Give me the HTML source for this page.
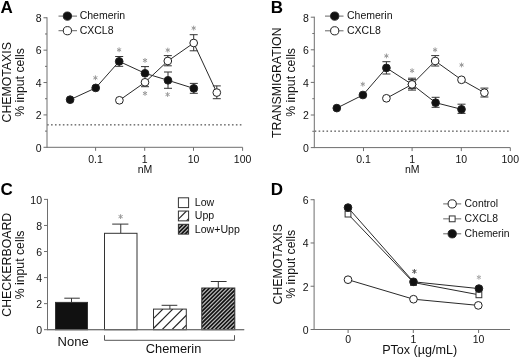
<!DOCTYPE html>
<html><head><meta charset="utf-8"><style>
html,body{margin:0;padding:0;background:#fff;}
body{width:520px;height:357px;overflow:hidden;}
svg{display:block;font-family:"Liberation Sans", sans-serif;filter:grayscale(1);}
</style></head><body>
<svg width="520" height="357" viewBox="0 0 520 357" font-family='"Liberation Sans", sans-serif'>
<rect width="520" height="357" fill="#fff"/>
<text x="0.40" y="12.60" font-size="17" text-anchor="start" font-weight="bold" fill="#000" >A</text>
<line x1="47.00" y1="17.28" x2="47.00" y2="147.80" stroke="#6e6e6e" stroke-width="1.0" />
<line x1="43.50" y1="147.30" x2="47.00" y2="147.30" stroke="#6e6e6e" stroke-width="1.0" />
<text x="41.50" y="151.60" font-size="10.5" text-anchor="end" font-weight="normal" fill="#111" >0</text>
<line x1="45.00" y1="131.11" x2="47.00" y2="131.11" stroke="#6e6e6e" stroke-width="1.0" />
<line x1="43.50" y1="114.92" x2="47.00" y2="114.92" stroke="#6e6e6e" stroke-width="1.0" />
<text x="41.50" y="119.22" font-size="10.5" text-anchor="end" font-weight="normal" fill="#111" >2</text>
<line x1="45.00" y1="98.73" x2="47.00" y2="98.73" stroke="#6e6e6e" stroke-width="1.0" />
<line x1="43.50" y1="82.54" x2="47.00" y2="82.54" stroke="#6e6e6e" stroke-width="1.0" />
<text x="41.50" y="86.84" font-size="10.5" text-anchor="end" font-weight="normal" fill="#111" >4</text>
<line x1="45.00" y1="66.35" x2="47.00" y2="66.35" stroke="#6e6e6e" stroke-width="1.0" />
<line x1="43.50" y1="50.16" x2="47.00" y2="50.16" stroke="#6e6e6e" stroke-width="1.0" />
<text x="41.50" y="54.46" font-size="10.5" text-anchor="end" font-weight="normal" fill="#111" >6</text>
<line x1="45.00" y1="33.97" x2="47.00" y2="33.97" stroke="#6e6e6e" stroke-width="1.0" />
<line x1="43.50" y1="17.78" x2="47.00" y2="17.78" stroke="#6e6e6e" stroke-width="1.0" />
<text x="41.50" y="22.08" font-size="10.5" text-anchor="end" font-weight="normal" fill="#111" >8</text>
<line x1="47.00" y1="147.30" x2="242.60" y2="147.30" stroke="#6e6e6e" stroke-width="1.0" />
<line x1="95.60" y1="147.30" x2="95.60" y2="150.80" stroke="#6e6e6e" stroke-width="1.0" />
<text x="95.60" y="162.50" font-size="10.5" text-anchor="middle" font-weight="normal" fill="#111" >0.1</text>
<line x1="144.70" y1="147.30" x2="144.70" y2="150.80" stroke="#6e6e6e" stroke-width="1.0" />
<text x="144.70" y="162.50" font-size="10.5" text-anchor="middle" font-weight="normal" fill="#111" >1</text>
<line x1="193.50" y1="147.30" x2="193.50" y2="150.80" stroke="#6e6e6e" stroke-width="1.0" />
<text x="193.50" y="162.50" font-size="10.5" text-anchor="middle" font-weight="normal" fill="#111" >10</text>
<line x1="242.60" y1="147.30" x2="242.60" y2="150.80" stroke="#6e6e6e" stroke-width="1.0" />
<text x="242.60" y="162.50" font-size="10.5" text-anchor="middle" font-weight="normal" fill="#111" >100</text>
<text x="145.00" y="172.60" font-size="10.5" text-anchor="middle" font-weight="normal" fill="#111" >nM</text>
<rect x="47.10" y="124.00" width="1.6" height="1.6" fill="#7a7a7a"/>
<rect x="51.03" y="124.00" width="1.6" height="1.6" fill="#7a7a7a"/>
<rect x="54.97" y="124.00" width="1.6" height="1.6" fill="#7a7a7a"/>
<rect x="58.90" y="124.00" width="1.6" height="1.6" fill="#7a7a7a"/>
<rect x="62.83" y="124.00" width="1.6" height="1.6" fill="#7a7a7a"/>
<rect x="66.77" y="124.00" width="1.6" height="1.6" fill="#7a7a7a"/>
<rect x="70.70" y="124.00" width="1.6" height="1.6" fill="#7a7a7a"/>
<rect x="74.63" y="124.00" width="1.6" height="1.6" fill="#7a7a7a"/>
<rect x="78.56" y="124.00" width="1.6" height="1.6" fill="#7a7a7a"/>
<rect x="82.50" y="124.00" width="1.6" height="1.6" fill="#7a7a7a"/>
<rect x="86.43" y="124.00" width="1.6" height="1.6" fill="#7a7a7a"/>
<rect x="90.36" y="124.00" width="1.6" height="1.6" fill="#7a7a7a"/>
<rect x="94.30" y="124.00" width="1.6" height="1.6" fill="#7a7a7a"/>
<rect x="98.23" y="124.00" width="1.6" height="1.6" fill="#7a7a7a"/>
<rect x="102.16" y="124.00" width="1.6" height="1.6" fill="#7a7a7a"/>
<rect x="106.09" y="124.00" width="1.6" height="1.6" fill="#7a7a7a"/>
<rect x="110.03" y="124.00" width="1.6" height="1.6" fill="#7a7a7a"/>
<rect x="113.96" y="124.00" width="1.6" height="1.6" fill="#7a7a7a"/>
<rect x="117.89" y="124.00" width="1.6" height="1.6" fill="#7a7a7a"/>
<rect x="121.83" y="124.00" width="1.6" height="1.6" fill="#7a7a7a"/>
<rect x="125.76" y="124.00" width="1.6" height="1.6" fill="#7a7a7a"/>
<rect x="129.69" y="124.00" width="1.6" height="1.6" fill="#7a7a7a"/>
<rect x="133.63" y="124.00" width="1.6" height="1.6" fill="#7a7a7a"/>
<rect x="137.56" y="124.00" width="1.6" height="1.6" fill="#7a7a7a"/>
<rect x="141.49" y="124.00" width="1.6" height="1.6" fill="#7a7a7a"/>
<rect x="145.42" y="124.00" width="1.6" height="1.6" fill="#7a7a7a"/>
<rect x="149.36" y="124.00" width="1.6" height="1.6" fill="#7a7a7a"/>
<rect x="153.29" y="124.00" width="1.6" height="1.6" fill="#7a7a7a"/>
<rect x="157.22" y="124.00" width="1.6" height="1.6" fill="#7a7a7a"/>
<rect x="161.16" y="124.00" width="1.6" height="1.6" fill="#7a7a7a"/>
<rect x="165.09" y="124.00" width="1.6" height="1.6" fill="#7a7a7a"/>
<rect x="169.02" y="124.00" width="1.6" height="1.6" fill="#7a7a7a"/>
<rect x="172.96" y="124.00" width="1.6" height="1.6" fill="#7a7a7a"/>
<rect x="176.89" y="124.00" width="1.6" height="1.6" fill="#7a7a7a"/>
<rect x="180.82" y="124.00" width="1.6" height="1.6" fill="#7a7a7a"/>
<rect x="184.75" y="124.00" width="1.6" height="1.6" fill="#7a7a7a"/>
<rect x="188.69" y="124.00" width="1.6" height="1.6" fill="#7a7a7a"/>
<rect x="192.62" y="124.00" width="1.6" height="1.6" fill="#7a7a7a"/>
<rect x="196.55" y="124.00" width="1.6" height="1.6" fill="#7a7a7a"/>
<rect x="200.49" y="124.00" width="1.6" height="1.6" fill="#7a7a7a"/>
<rect x="204.42" y="124.00" width="1.6" height="1.6" fill="#7a7a7a"/>
<rect x="208.35" y="124.00" width="1.6" height="1.6" fill="#7a7a7a"/>
<rect x="212.29" y="124.00" width="1.6" height="1.6" fill="#7a7a7a"/>
<rect x="216.22" y="124.00" width="1.6" height="1.6" fill="#7a7a7a"/>
<rect x="220.15" y="124.00" width="1.6" height="1.6" fill="#7a7a7a"/>
<rect x="224.08" y="124.00" width="1.6" height="1.6" fill="#7a7a7a"/>
<rect x="228.02" y="124.00" width="1.6" height="1.6" fill="#7a7a7a"/>
<rect x="231.95" y="124.00" width="1.6" height="1.6" fill="#7a7a7a"/>
<rect x="235.88" y="124.00" width="1.6" height="1.6" fill="#7a7a7a"/>
<rect x="239.82" y="124.00" width="1.6" height="1.6" fill="#7a7a7a"/>
<text transform="translate(10.50,82.30) rotate(-90)" x="0" y="0" font-size="12.3" text-anchor="middle" fill="#111">CHEMOTAXIS</text>
<text transform="translate(23.60,82.45) rotate(-90)" x="0" y="0" font-size="12.25" text-anchor="middle" fill="#111">% input cells</text>
<polyline points="70.10,99.70 95.70,87.90 119.20,61.40 145.00,73.30 168.00,80.30 193.80,88.40" fill="none" stroke="#2a2a2a" stroke-width="1.0"/>
<polyline points="119.40,100.30 145.00,82.30 167.80,61.00 193.70,43.00 216.80,92.60" fill="none" stroke="#2a2a2a" stroke-width="1.0"/>
<line x1="119.20" y1="56.50" x2="119.20" y2="61.40" stroke="#333" stroke-width="1.0" />
<line x1="115.20" y1="56.50" x2="123.20" y2="56.50" stroke="#333" stroke-width="1.0" />
<line x1="119.20" y1="66.30" x2="119.20" y2="61.40" stroke="#333" stroke-width="1.0" />
<line x1="115.20" y1="66.30" x2="123.20" y2="66.30" stroke="#333" stroke-width="1.0" />
<line x1="145.00" y1="66.60" x2="145.00" y2="72.60" stroke="#333" stroke-width="1.0" />
<line x1="141.00" y1="66.60" x2="149.00" y2="66.60" stroke="#333" stroke-width="1.0" />
<line x1="168.00" y1="72.00" x2="168.00" y2="80.15" stroke="#333" stroke-width="1.0" />
<line x1="164.00" y1="72.00" x2="172.00" y2="72.00" stroke="#333" stroke-width="1.0" />
<line x1="168.00" y1="88.30" x2="168.00" y2="80.15" stroke="#333" stroke-width="1.0" />
<line x1="164.00" y1="88.30" x2="172.00" y2="88.30" stroke="#333" stroke-width="1.0" />
<line x1="193.80" y1="83.40" x2="193.80" y2="88.35" stroke="#333" stroke-width="1.0" />
<line x1="189.80" y1="83.40" x2="197.80" y2="83.40" stroke="#333" stroke-width="1.0" />
<line x1="193.80" y1="93.30" x2="193.80" y2="88.35" stroke="#333" stroke-width="1.0" />
<line x1="189.80" y1="93.30" x2="197.80" y2="93.30" stroke="#333" stroke-width="1.0" />
<line x1="145.00" y1="86.70" x2="145.00" y2="80.70" stroke="#333" stroke-width="1.0" />
<line x1="141.00" y1="86.70" x2="149.00" y2="86.70" stroke="#333" stroke-width="1.0" />
<line x1="167.80" y1="55.60" x2="167.80" y2="60.70" stroke="#333" stroke-width="1.0" />
<line x1="163.80" y1="55.60" x2="171.80" y2="55.60" stroke="#333" stroke-width="1.0" />
<line x1="167.80" y1="65.80" x2="167.80" y2="60.70" stroke="#333" stroke-width="1.0" />
<line x1="163.80" y1="65.80" x2="171.80" y2="65.80" stroke="#333" stroke-width="1.0" />
<line x1="193.70" y1="34.70" x2="193.70" y2="42.75" stroke="#333" stroke-width="1.0" />
<line x1="189.70" y1="34.70" x2="197.70" y2="34.70" stroke="#333" stroke-width="1.0" />
<line x1="193.70" y1="50.80" x2="193.70" y2="42.75" stroke="#333" stroke-width="1.0" />
<line x1="189.70" y1="50.80" x2="197.70" y2="50.80" stroke="#333" stroke-width="1.0" />
<line x1="216.80" y1="85.90" x2="216.80" y2="92.30" stroke="#333" stroke-width="1.0" />
<line x1="212.80" y1="85.90" x2="220.80" y2="85.90" stroke="#333" stroke-width="1.0" />
<line x1="216.80" y1="98.70" x2="216.80" y2="92.30" stroke="#333" stroke-width="1.0" />
<line x1="212.80" y1="98.70" x2="220.80" y2="98.70" stroke="#333" stroke-width="1.0" />
<circle cx="70.10" cy="99.70" r="3.85" fill="#111" stroke="#222" stroke-width="1.0"/>
<circle cx="95.70" cy="87.90" r="3.85" fill="#111" stroke="#222" stroke-width="1.0"/>
<circle cx="119.20" cy="61.40" r="3.85" fill="#111" stroke="#222" stroke-width="1.0"/>
<circle cx="145.00" cy="73.30" r="3.85" fill="#111" stroke="#222" stroke-width="1.0"/>
<circle cx="168.00" cy="80.30" r="3.85" fill="#111" stroke="#222" stroke-width="1.0"/>
<circle cx="193.80" cy="88.40" r="3.85" fill="#111" stroke="#222" stroke-width="1.0"/>
<circle cx="119.40" cy="100.30" r="3.85" fill="#fff" stroke="#222" stroke-width="1.0"/>
<circle cx="145.00" cy="82.30" r="3.85" fill="#fff" stroke="#222" stroke-width="1.0"/>
<circle cx="167.80" cy="61.00" r="3.85" fill="#fff" stroke="#222" stroke-width="1.0"/>
<circle cx="193.70" cy="43.00" r="3.85" fill="#fff" stroke="#222" stroke-width="1.0"/>
<circle cx="216.80" cy="92.60" r="3.85" fill="#fff" stroke="#222" stroke-width="1.0"/>
<line x1="95.40" y1="75.40" x2="95.40" y2="80.20" stroke="#9a9a9a" stroke-width="1.0" />
<line x1="93.32" y1="76.60" x2="97.48" y2="79.00" stroke="#9a9a9a" stroke-width="1.0" />
<line x1="93.32" y1="79.00" x2="97.48" y2="76.60" stroke="#9a9a9a" stroke-width="1.0" />
<line x1="119.10" y1="47.40" x2="119.10" y2="52.20" stroke="#9a9a9a" stroke-width="1.0" />
<line x1="117.02" y1="48.60" x2="121.18" y2="51.00" stroke="#9a9a9a" stroke-width="1.0" />
<line x1="117.02" y1="51.00" x2="121.18" y2="48.60" stroke="#9a9a9a" stroke-width="1.0" />
<line x1="145.00" y1="58.00" x2="145.00" y2="62.80" stroke="#9a9a9a" stroke-width="1.0" />
<line x1="142.92" y1="59.20" x2="147.08" y2="61.60" stroke="#9a9a9a" stroke-width="1.0" />
<line x1="142.92" y1="61.60" x2="147.08" y2="59.20" stroke="#9a9a9a" stroke-width="1.0" />
<line x1="145.00" y1="91.00" x2="145.00" y2="95.80" stroke="#9a9a9a" stroke-width="1.0" />
<line x1="142.92" y1="92.20" x2="147.08" y2="94.60" stroke="#9a9a9a" stroke-width="1.0" />
<line x1="142.92" y1="94.60" x2="147.08" y2="92.20" stroke="#9a9a9a" stroke-width="1.0" />
<line x1="167.80" y1="47.70" x2="167.80" y2="52.50" stroke="#9a9a9a" stroke-width="1.0" />
<line x1="165.72" y1="48.90" x2="169.88" y2="51.30" stroke="#9a9a9a" stroke-width="1.0" />
<line x1="165.72" y1="51.30" x2="169.88" y2="48.90" stroke="#9a9a9a" stroke-width="1.0" />
<line x1="167.60" y1="92.10" x2="167.60" y2="96.90" stroke="#9a9a9a" stroke-width="1.0" />
<line x1="165.52" y1="93.30" x2="169.68" y2="95.70" stroke="#9a9a9a" stroke-width="1.0" />
<line x1="165.52" y1="95.70" x2="169.68" y2="93.30" stroke="#9a9a9a" stroke-width="1.0" />
<line x1="193.70" y1="25.70" x2="193.70" y2="30.50" stroke="#9a9a9a" stroke-width="1.0" />
<line x1="191.62" y1="26.90" x2="195.78" y2="29.30" stroke="#9a9a9a" stroke-width="1.0" />
<line x1="191.62" y1="29.30" x2="195.78" y2="26.90" stroke="#9a9a9a" stroke-width="1.0" />
<line x1="58.50" y1="16.10" x2="77.00" y2="16.10" stroke="#666" stroke-width="1.0" />
<circle cx="67.40" cy="16.10" r="4.1" fill="#111" stroke="#222" stroke-width="1.0"/>
<text x="79.70" y="19.40" font-size="10.5" text-anchor="start" font-weight="normal" fill="#111" >Chemerin</text>
<line x1="58.50" y1="30.70" x2="77.00" y2="30.70" stroke="#666" stroke-width="1.0" />
<circle cx="67.40" cy="30.70" r="4.1" fill="#fff" stroke="#222" stroke-width="1.0"/>
<text x="79.70" y="34.00" font-size="10.5" text-anchor="start" font-weight="normal" fill="#111" >CXCL8</text>
<text x="270.80" y="12.60" font-size="17" text-anchor="start" font-weight="bold" fill="#000" >B</text>
<line x1="314.30" y1="16.70" x2="314.30" y2="148.10" stroke="#6e6e6e" stroke-width="1.0" />
<line x1="310.80" y1="147.60" x2="314.30" y2="147.60" stroke="#6e6e6e" stroke-width="1.0" />
<text x="308.80" y="151.90" font-size="10.5" text-anchor="end" font-weight="normal" fill="#111" >0</text>
<line x1="312.30" y1="131.30" x2="314.30" y2="131.30" stroke="#6e6e6e" stroke-width="1.0" />
<line x1="310.80" y1="115.00" x2="314.30" y2="115.00" stroke="#6e6e6e" stroke-width="1.0" />
<text x="308.80" y="119.30" font-size="10.5" text-anchor="end" font-weight="normal" fill="#111" >2</text>
<line x1="312.30" y1="98.70" x2="314.30" y2="98.70" stroke="#6e6e6e" stroke-width="1.0" />
<line x1="310.80" y1="82.40" x2="314.30" y2="82.40" stroke="#6e6e6e" stroke-width="1.0" />
<text x="308.80" y="86.70" font-size="10.5" text-anchor="end" font-weight="normal" fill="#111" >4</text>
<line x1="312.30" y1="66.10" x2="314.30" y2="66.10" stroke="#6e6e6e" stroke-width="1.0" />
<line x1="310.80" y1="49.80" x2="314.30" y2="49.80" stroke="#6e6e6e" stroke-width="1.0" />
<text x="308.80" y="54.10" font-size="10.5" text-anchor="end" font-weight="normal" fill="#111" >6</text>
<line x1="312.30" y1="33.50" x2="314.30" y2="33.50" stroke="#6e6e6e" stroke-width="1.0" />
<line x1="310.80" y1="17.20" x2="314.30" y2="17.20" stroke="#6e6e6e" stroke-width="1.0" />
<text x="308.80" y="21.50" font-size="10.5" text-anchor="end" font-weight="normal" fill="#111" >8</text>
<line x1="314.30" y1="147.60" x2="510.30" y2="147.60" stroke="#6e6e6e" stroke-width="1.0" />
<line x1="363.50" y1="147.60" x2="363.50" y2="151.10" stroke="#6e6e6e" stroke-width="1.0" />
<text x="363.50" y="162.80" font-size="10.5" text-anchor="middle" font-weight="normal" fill="#111" >0.1</text>
<line x1="412.10" y1="147.60" x2="412.10" y2="151.10" stroke="#6e6e6e" stroke-width="1.0" />
<text x="412.10" y="162.80" font-size="10.5" text-anchor="middle" font-weight="normal" fill="#111" >1</text>
<line x1="461.30" y1="147.60" x2="461.30" y2="151.10" stroke="#6e6e6e" stroke-width="1.0" />
<text x="461.30" y="162.80" font-size="10.5" text-anchor="middle" font-weight="normal" fill="#111" >10</text>
<line x1="510.30" y1="147.60" x2="510.30" y2="151.10" stroke="#6e6e6e" stroke-width="1.0" />
<text x="510.30" y="162.80" font-size="10.5" text-anchor="middle" font-weight="normal" fill="#111" >100</text>
<text x="412.30" y="172.80" font-size="10.5" text-anchor="middle" font-weight="normal" fill="#111" >nM</text>
<rect x="314.70" y="130.40" width="1.6" height="1.6" fill="#7a7a7a"/>
<rect x="318.63" y="130.40" width="1.6" height="1.6" fill="#7a7a7a"/>
<rect x="322.55" y="130.40" width="1.6" height="1.6" fill="#7a7a7a"/>
<rect x="326.48" y="130.40" width="1.6" height="1.6" fill="#7a7a7a"/>
<rect x="330.40" y="130.40" width="1.6" height="1.6" fill="#7a7a7a"/>
<rect x="334.33" y="130.40" width="1.6" height="1.6" fill="#7a7a7a"/>
<rect x="338.26" y="130.40" width="1.6" height="1.6" fill="#7a7a7a"/>
<rect x="342.18" y="130.40" width="1.6" height="1.6" fill="#7a7a7a"/>
<rect x="346.11" y="130.40" width="1.6" height="1.6" fill="#7a7a7a"/>
<rect x="350.03" y="130.40" width="1.6" height="1.6" fill="#7a7a7a"/>
<rect x="353.96" y="130.40" width="1.6" height="1.6" fill="#7a7a7a"/>
<rect x="357.89" y="130.40" width="1.6" height="1.6" fill="#7a7a7a"/>
<rect x="361.81" y="130.40" width="1.6" height="1.6" fill="#7a7a7a"/>
<rect x="365.74" y="130.40" width="1.6" height="1.6" fill="#7a7a7a"/>
<rect x="369.66" y="130.40" width="1.6" height="1.6" fill="#7a7a7a"/>
<rect x="373.59" y="130.40" width="1.6" height="1.6" fill="#7a7a7a"/>
<rect x="377.52" y="130.40" width="1.6" height="1.6" fill="#7a7a7a"/>
<rect x="381.44" y="130.40" width="1.6" height="1.6" fill="#7a7a7a"/>
<rect x="385.37" y="130.40" width="1.6" height="1.6" fill="#7a7a7a"/>
<rect x="389.29" y="130.40" width="1.6" height="1.6" fill="#7a7a7a"/>
<rect x="393.22" y="130.40" width="1.6" height="1.6" fill="#7a7a7a"/>
<rect x="397.15" y="130.40" width="1.6" height="1.6" fill="#7a7a7a"/>
<rect x="401.07" y="130.40" width="1.6" height="1.6" fill="#7a7a7a"/>
<rect x="405.00" y="130.40" width="1.6" height="1.6" fill="#7a7a7a"/>
<rect x="408.92" y="130.40" width="1.6" height="1.6" fill="#7a7a7a"/>
<rect x="412.85" y="130.40" width="1.6" height="1.6" fill="#7a7a7a"/>
<rect x="416.78" y="130.40" width="1.6" height="1.6" fill="#7a7a7a"/>
<rect x="420.70" y="130.40" width="1.6" height="1.6" fill="#7a7a7a"/>
<rect x="424.63" y="130.40" width="1.6" height="1.6" fill="#7a7a7a"/>
<rect x="428.55" y="130.40" width="1.6" height="1.6" fill="#7a7a7a"/>
<rect x="432.48" y="130.40" width="1.6" height="1.6" fill="#7a7a7a"/>
<rect x="436.41" y="130.40" width="1.6" height="1.6" fill="#7a7a7a"/>
<rect x="440.33" y="130.40" width="1.6" height="1.6" fill="#7a7a7a"/>
<rect x="444.26" y="130.40" width="1.6" height="1.6" fill="#7a7a7a"/>
<rect x="448.18" y="130.40" width="1.6" height="1.6" fill="#7a7a7a"/>
<rect x="452.11" y="130.40" width="1.6" height="1.6" fill="#7a7a7a"/>
<rect x="456.04" y="130.40" width="1.6" height="1.6" fill="#7a7a7a"/>
<rect x="459.96" y="130.40" width="1.6" height="1.6" fill="#7a7a7a"/>
<rect x="463.89" y="130.40" width="1.6" height="1.6" fill="#7a7a7a"/>
<rect x="467.81" y="130.40" width="1.6" height="1.6" fill="#7a7a7a"/>
<rect x="471.74" y="130.40" width="1.6" height="1.6" fill="#7a7a7a"/>
<rect x="475.67" y="130.40" width="1.6" height="1.6" fill="#7a7a7a"/>
<rect x="479.59" y="130.40" width="1.6" height="1.6" fill="#7a7a7a"/>
<rect x="483.52" y="130.40" width="1.6" height="1.6" fill="#7a7a7a"/>
<rect x="487.44" y="130.40" width="1.6" height="1.6" fill="#7a7a7a"/>
<rect x="491.37" y="130.40" width="1.6" height="1.6" fill="#7a7a7a"/>
<rect x="495.30" y="130.40" width="1.6" height="1.6" fill="#7a7a7a"/>
<rect x="499.22" y="130.40" width="1.6" height="1.6" fill="#7a7a7a"/>
<rect x="503.15" y="130.40" width="1.6" height="1.6" fill="#7a7a7a"/>
<rect x="507.07" y="130.40" width="1.6" height="1.6" fill="#7a7a7a"/>
<text transform="translate(281.40,82.70) rotate(-90)" x="0" y="0" font-size="12.3" text-anchor="middle" fill="#111">TRANSMIGRATION</text>
<text transform="translate(294.60,82.40) rotate(-90)" x="0" y="0" font-size="12.25" text-anchor="middle" fill="#111">% input cells</text>
<polyline points="336.80,108.10 362.90,95.00 386.40,67.90 412.00,84.40 435.60,102.70 461.50,109.30" fill="none" stroke="#2a2a2a" stroke-width="1.0"/>
<polyline points="386.40,98.30 412.00,84.40 435.20,61.00 461.50,79.80 484.40,92.70" fill="none" stroke="#2a2a2a" stroke-width="1.0"/>
<line x1="386.40" y1="61.70" x2="386.40" y2="67.85" stroke="#333" stroke-width="1.0" />
<line x1="382.40" y1="61.70" x2="390.40" y2="61.70" stroke="#333" stroke-width="1.0" />
<line x1="386.40" y1="74.00" x2="386.40" y2="67.85" stroke="#333" stroke-width="1.0" />
<line x1="382.40" y1="74.00" x2="390.40" y2="74.00" stroke="#333" stroke-width="1.0" />
<line x1="412.00" y1="78.20" x2="412.00" y2="84.15" stroke="#333" stroke-width="1.0" />
<line x1="408.00" y1="78.20" x2="416.00" y2="78.20" stroke="#333" stroke-width="1.0" />
<line x1="412.00" y1="90.10" x2="412.00" y2="84.15" stroke="#333" stroke-width="1.0" />
<line x1="408.00" y1="90.10" x2="416.00" y2="90.10" stroke="#333" stroke-width="1.0" />
<line x1="412.00" y1="79.60" x2="412.00" y2="84.10" stroke="#333" stroke-width="1.0" />
<line x1="408.00" y1="79.60" x2="416.00" y2="79.60" stroke="#333" stroke-width="1.0" />
<line x1="412.00" y1="88.60" x2="412.00" y2="84.10" stroke="#333" stroke-width="1.0" />
<line x1="408.00" y1="88.60" x2="416.00" y2="88.60" stroke="#333" stroke-width="1.0" />
<line x1="435.60" y1="97.30" x2="435.60" y2="102.30" stroke="#333" stroke-width="1.0" />
<line x1="431.60" y1="97.30" x2="439.60" y2="97.30" stroke="#333" stroke-width="1.0" />
<line x1="435.60" y1="107.30" x2="435.60" y2="102.30" stroke="#333" stroke-width="1.0" />
<line x1="431.60" y1="107.30" x2="439.60" y2="107.30" stroke="#333" stroke-width="1.0" />
<line x1="461.50" y1="104.20" x2="461.50" y2="108.80" stroke="#333" stroke-width="1.0" />
<line x1="457.50" y1="104.20" x2="465.50" y2="104.20" stroke="#333" stroke-width="1.0" />
<line x1="461.50" y1="113.40" x2="461.50" y2="108.80" stroke="#333" stroke-width="1.0" />
<line x1="457.50" y1="113.40" x2="465.50" y2="113.40" stroke="#333" stroke-width="1.0" />
<line x1="435.20" y1="55.60" x2="435.20" y2="60.80" stroke="#333" stroke-width="1.0" />
<line x1="431.20" y1="55.60" x2="439.20" y2="55.60" stroke="#333" stroke-width="1.0" />
<line x1="435.20" y1="66.00" x2="435.20" y2="60.80" stroke="#333" stroke-width="1.0" />
<line x1="431.20" y1="66.00" x2="439.20" y2="66.00" stroke="#333" stroke-width="1.0" />
<line x1="484.40" y1="88.10" x2="484.40" y2="92.55" stroke="#333" stroke-width="1.0" />
<line x1="480.40" y1="88.10" x2="488.40" y2="88.10" stroke="#333" stroke-width="1.0" />
<line x1="484.40" y1="97.00" x2="484.40" y2="92.55" stroke="#333" stroke-width="1.0" />
<line x1="480.40" y1="97.00" x2="488.40" y2="97.00" stroke="#333" stroke-width="1.0" />
<circle cx="336.80" cy="108.10" r="3.85" fill="#111" stroke="#222" stroke-width="1.0"/>
<circle cx="362.90" cy="95.00" r="3.85" fill="#111" stroke="#222" stroke-width="1.0"/>
<circle cx="386.40" cy="67.90" r="3.85" fill="#111" stroke="#222" stroke-width="1.0"/>
<circle cx="412.00" cy="84.40" r="3.85" fill="#111" stroke="#222" stroke-width="1.0"/>
<circle cx="435.60" cy="102.70" r="3.85" fill="#111" stroke="#222" stroke-width="1.0"/>
<circle cx="461.50" cy="109.30" r="3.85" fill="#111" stroke="#222" stroke-width="1.0"/>
<circle cx="386.40" cy="98.30" r="3.85" fill="#fff" stroke="#222" stroke-width="1.0"/>
<circle cx="412.00" cy="84.40" r="3.85" fill="#fff" stroke="#222" stroke-width="1.0"/>
<circle cx="435.20" cy="61.00" r="3.85" fill="#fff" stroke="#222" stroke-width="1.0"/>
<circle cx="461.50" cy="79.80" r="3.85" fill="#fff" stroke="#222" stroke-width="1.0"/>
<circle cx="484.40" cy="92.70" r="3.85" fill="#fff" stroke="#222" stroke-width="1.0"/>
<line x1="362.80" y1="81.80" x2="362.80" y2="86.60" stroke="#9a9a9a" stroke-width="1.0" />
<line x1="360.72" y1="83.00" x2="364.88" y2="85.40" stroke="#9a9a9a" stroke-width="1.0" />
<line x1="360.72" y1="85.40" x2="364.88" y2="83.00" stroke="#9a9a9a" stroke-width="1.0" />
<line x1="386.40" y1="53.50" x2="386.40" y2="58.30" stroke="#9a9a9a" stroke-width="1.0" />
<line x1="384.32" y1="54.70" x2="388.48" y2="57.10" stroke="#9a9a9a" stroke-width="1.0" />
<line x1="384.32" y1="57.10" x2="388.48" y2="54.70" stroke="#9a9a9a" stroke-width="1.0" />
<line x1="412.10" y1="68.30" x2="412.10" y2="73.10" stroke="#9a9a9a" stroke-width="1.0" />
<line x1="410.02" y1="69.50" x2="414.18" y2="71.90" stroke="#9a9a9a" stroke-width="1.0" />
<line x1="410.02" y1="71.90" x2="414.18" y2="69.50" stroke="#9a9a9a" stroke-width="1.0" />
<line x1="435.10" y1="47.40" x2="435.10" y2="52.20" stroke="#9a9a9a" stroke-width="1.0" />
<line x1="433.02" y1="48.60" x2="437.18" y2="51.00" stroke="#9a9a9a" stroke-width="1.0" />
<line x1="433.02" y1="51.00" x2="437.18" y2="48.60" stroke="#9a9a9a" stroke-width="1.0" />
<line x1="461.60" y1="62.60" x2="461.60" y2="67.40" stroke="#9a9a9a" stroke-width="1.0" />
<line x1="459.52" y1="63.80" x2="463.68" y2="66.20" stroke="#9a9a9a" stroke-width="1.0" />
<line x1="459.52" y1="66.20" x2="463.68" y2="63.80" stroke="#9a9a9a" stroke-width="1.0" />
<line x1="325.00" y1="16.10" x2="343.50" y2="16.10" stroke="#666" stroke-width="1.0" />
<circle cx="334.70" cy="16.10" r="4.1" fill="#111" stroke="#222" stroke-width="1.0"/>
<text x="347.00" y="19.40" font-size="10.5" text-anchor="start" font-weight="normal" fill="#111" >Chemerin</text>
<line x1="325.00" y1="30.80" x2="343.50" y2="30.80" stroke="#666" stroke-width="1.0" />
<circle cx="334.70" cy="30.80" r="4.1" fill="#fff" stroke="#222" stroke-width="1.0"/>
<text x="347.00" y="34.10" font-size="10.5" text-anchor="start" font-weight="normal" fill="#111" >CXCL8</text>
<text x="0.40" y="194.50" font-size="17" text-anchor="start" font-weight="bold" fill="#000" >C</text>
<line x1="47.50" y1="198.90" x2="47.50" y2="330.20" stroke="#6e6e6e" stroke-width="1.0" />
<line x1="44.00" y1="329.70" x2="47.50" y2="329.70" stroke="#6e6e6e" stroke-width="1.0" />
<text x="42.00" y="334.00" font-size="10.5" text-anchor="end" font-weight="normal" fill="#111" >0</text>
<line x1="44.00" y1="303.64" x2="47.50" y2="303.64" stroke="#6e6e6e" stroke-width="1.0" />
<text x="42.00" y="307.94" font-size="10.5" text-anchor="end" font-weight="normal" fill="#111" >2</text>
<line x1="44.00" y1="277.58" x2="47.50" y2="277.58" stroke="#6e6e6e" stroke-width="1.0" />
<text x="42.00" y="281.88" font-size="10.5" text-anchor="end" font-weight="normal" fill="#111" >4</text>
<line x1="44.00" y1="251.52" x2="47.50" y2="251.52" stroke="#6e6e6e" stroke-width="1.0" />
<text x="42.00" y="255.82" font-size="10.5" text-anchor="end" font-weight="normal" fill="#111" >6</text>
<line x1="44.00" y1="225.46" x2="47.50" y2="225.46" stroke="#6e6e6e" stroke-width="1.0" />
<text x="42.00" y="229.76" font-size="10.5" text-anchor="end" font-weight="normal" fill="#111" >8</text>
<line x1="44.00" y1="199.40" x2="47.50" y2="199.40" stroke="#6e6e6e" stroke-width="1.0" />
<text x="42.00" y="203.70" font-size="10.5" text-anchor="end" font-weight="normal" fill="#111" >10</text>
<line x1="47.50" y1="329.70" x2="244.20" y2="329.70" stroke="#6e6e6e" stroke-width="1.0" />
<text transform="translate(10.50,264.75) rotate(-90)" x="0" y="0" font-size="12.3" text-anchor="middle" fill="#111">CHECKERBOARD</text>
<text transform="translate(23.50,264.90) rotate(-90)" x="0" y="0" font-size="12.25" text-anchor="middle" fill="#111">% input cells</text>
<line x1="71.50" y1="298.20" x2="71.50" y2="302.40" stroke="#333" stroke-width="1.0" />
<line x1="64.30" y1="298.20" x2="79.80" y2="298.20" stroke="#333" stroke-width="1.0" />
<clipPath id="cl1"><rect x="55.50" y="302.40" width="32.00" height="27.30"/></clipPath>
<rect x="55.50" y="302.40" width="32.00" height="27.30" fill="#111"/>
<rect x="55.50" y="302.40" width="32.00" height="27.30" fill="none" stroke="#333" stroke-width="1"/>
<line x1="120.75" y1="224.10" x2="120.75" y2="233.30" stroke="#333" stroke-width="1.0" />
<line x1="112.20" y1="224.10" x2="128.40" y2="224.10" stroke="#333" stroke-width="1.0" />
<clipPath id="cl2"><rect x="104.50" y="233.30" width="32.50" height="96.40"/></clipPath>
<rect x="104.50" y="233.30" width="32.50" height="96.40" fill="#fff"/>
<rect x="104.50" y="233.30" width="32.50" height="96.40" fill="none" stroke="#333" stroke-width="1"/>
<line x1="169.90" y1="305.30" x2="169.90" y2="309.10" stroke="#333" stroke-width="1.0" />
<line x1="161.60" y1="305.30" x2="177.30" y2="305.30" stroke="#333" stroke-width="1.0" />
<clipPath id="cl3"><rect x="153.50" y="309.10" width="32.80" height="20.60"/></clipPath>
<rect x="153.50" y="309.10" width="32.80" height="20.60" fill="#fff"/>
<g clip-path="url(#cl3)">
<line x1="122.55" y1="329.70" x2="143.15" y2="309.10" stroke="#222" stroke-width="1.15" />
<line x1="132.43" y1="329.70" x2="153.03" y2="309.10" stroke="#222" stroke-width="1.15" />
<line x1="142.31" y1="329.70" x2="162.91" y2="309.10" stroke="#222" stroke-width="1.15" />
<line x1="152.19" y1="329.70" x2="172.79" y2="309.10" stroke="#222" stroke-width="1.15" />
<line x1="162.07" y1="329.70" x2="182.67" y2="309.10" stroke="#222" stroke-width="1.15" />
<line x1="171.95" y1="329.70" x2="192.55" y2="309.10" stroke="#222" stroke-width="1.15" />
<line x1="181.83" y1="329.70" x2="202.43" y2="309.10" stroke="#222" stroke-width="1.15" />
<line x1="191.71" y1="329.70" x2="212.31" y2="309.10" stroke="#222" stroke-width="1.15" />
<line x1="201.59" y1="329.70" x2="222.19" y2="309.10" stroke="#222" stroke-width="1.15" />
</g>
<rect x="153.50" y="309.10" width="32.80" height="20.60" fill="none" stroke="#333" stroke-width="1"/>
<line x1="218.30" y1="281.50" x2="218.30" y2="288.00" stroke="#333" stroke-width="1.0" />
<line x1="210.80" y1="281.50" x2="226.60" y2="281.50" stroke="#333" stroke-width="1.0" />
<clipPath id="cl4"><rect x="201.80" y="288.00" width="33.00" height="41.70"/></clipPath>
<rect x="201.80" y="288.00" width="33.00" height="41.70" fill="#111"/>
<g clip-path="url(#cl4)">
<line x1="154.16" y1="329.70" x2="195.86" y2="288.00" stroke="#bdbdbd" stroke-width="1.15" />
<line x1="158.08" y1="329.70" x2="199.78" y2="288.00" stroke="#bdbdbd" stroke-width="1.15" />
<line x1="162.00" y1="329.70" x2="203.70" y2="288.00" stroke="#bdbdbd" stroke-width="1.15" />
<line x1="165.92" y1="329.70" x2="207.62" y2="288.00" stroke="#bdbdbd" stroke-width="1.15" />
<line x1="169.84" y1="329.70" x2="211.54" y2="288.00" stroke="#bdbdbd" stroke-width="1.15" />
<line x1="173.76" y1="329.70" x2="215.46" y2="288.00" stroke="#bdbdbd" stroke-width="1.15" />
<line x1="177.68" y1="329.70" x2="219.38" y2="288.00" stroke="#bdbdbd" stroke-width="1.15" />
<line x1="181.60" y1="329.70" x2="223.30" y2="288.00" stroke="#bdbdbd" stroke-width="1.15" />
<line x1="185.52" y1="329.70" x2="227.22" y2="288.00" stroke="#bdbdbd" stroke-width="1.15" />
<line x1="189.44" y1="329.70" x2="231.14" y2="288.00" stroke="#bdbdbd" stroke-width="1.15" />
<line x1="193.36" y1="329.70" x2="235.06" y2="288.00" stroke="#bdbdbd" stroke-width="1.15" />
<line x1="197.28" y1="329.70" x2="238.98" y2="288.00" stroke="#bdbdbd" stroke-width="1.15" />
<line x1="201.20" y1="329.70" x2="242.90" y2="288.00" stroke="#bdbdbd" stroke-width="1.15" />
<line x1="205.12" y1="329.70" x2="246.82" y2="288.00" stroke="#bdbdbd" stroke-width="1.15" />
<line x1="209.04" y1="329.70" x2="250.74" y2="288.00" stroke="#bdbdbd" stroke-width="1.15" />
<line x1="212.96" y1="329.70" x2="254.66" y2="288.00" stroke="#bdbdbd" stroke-width="1.15" />
<line x1="216.88" y1="329.70" x2="258.58" y2="288.00" stroke="#bdbdbd" stroke-width="1.15" />
<line x1="220.80" y1="329.70" x2="262.50" y2="288.00" stroke="#bdbdbd" stroke-width="1.15" />
<line x1="224.72" y1="329.70" x2="266.42" y2="288.00" stroke="#bdbdbd" stroke-width="1.15" />
<line x1="228.64" y1="329.70" x2="270.34" y2="288.00" stroke="#bdbdbd" stroke-width="1.15" />
<line x1="232.56" y1="329.70" x2="274.26" y2="288.00" stroke="#bdbdbd" stroke-width="1.15" />
<line x1="236.48" y1="329.70" x2="278.18" y2="288.00" stroke="#bdbdbd" stroke-width="1.15" />
<line x1="240.40" y1="329.70" x2="282.10" y2="288.00" stroke="#bdbdbd" stroke-width="1.15" />
</g>
<rect x="201.80" y="288.00" width="33.00" height="41.70" fill="none" stroke="#333" stroke-width="1"/>
<line x1="47.50" y1="329.70" x2="244.20" y2="329.70" stroke="#6e6e6e" stroke-width="1.0" />
<line x1="120.60" y1="214.20" x2="120.60" y2="219.00" stroke="#9a9a9a" stroke-width="1.0" />
<line x1="118.52" y1="215.40" x2="122.68" y2="217.80" stroke="#9a9a9a" stroke-width="1.0" />
<line x1="118.52" y1="217.80" x2="122.68" y2="215.40" stroke="#9a9a9a" stroke-width="1.0" />
<polyline points="104.5,335.2 104.5,340.3 234.5,340.3 234.5,335.2" fill="none" stroke="#555" stroke-width="1"/>
<text x="73.10" y="346.00" font-size="13" text-anchor="middle" font-weight="normal" fill="#111" >None</text>
<text x="173.60" y="352.50" font-size="12.8" text-anchor="middle" font-weight="normal" fill="#111" >Chemerin</text>
<clipPath id="cl5"><rect x="178.40" y="197.80" width="10.20" height="9.80"/></clipPath>
<rect x="178.40" y="197.80" width="10.20" height="9.80" fill="#fff"/>
<rect x="178.40" y="197.80" width="10.20" height="9.80" fill="none" stroke="#333" stroke-width="1"/>
<text x="194.80" y="206.20" font-size="10.6" text-anchor="start" font-weight="normal" fill="#111" >Low</text>
<clipPath id="cl6"><rect x="178.40" y="211.05" width="10.20" height="9.80"/></clipPath>
<rect x="178.40" y="211.05" width="10.20" height="9.80" fill="#fff"/>
<g clip-path="url(#cl6)">
<line x1="156.89" y1="220.85" x2="166.69" y2="211.05" stroke="#222" stroke-width="1.15" />
<line x1="166.77" y1="220.85" x2="176.57" y2="211.05" stroke="#222" stroke-width="1.15" />
<line x1="176.65" y1="220.85" x2="186.45" y2="211.05" stroke="#222" stroke-width="1.15" />
<line x1="186.53" y1="220.85" x2="196.33" y2="211.05" stroke="#222" stroke-width="1.15" />
<line x1="196.41" y1="220.85" x2="206.21" y2="211.05" stroke="#222" stroke-width="1.15" />
<line x1="206.29" y1="220.85" x2="216.09" y2="211.05" stroke="#222" stroke-width="1.15" />
</g>
<rect x="178.40" y="211.05" width="10.20" height="9.80" fill="none" stroke="#333" stroke-width="1"/>
<text x="194.80" y="219.45" font-size="10.6" text-anchor="start" font-weight="normal" fill="#111" >Upp</text>
<clipPath id="cl7"><rect x="178.40" y="224.30" width="10.20" height="9.80"/></clipPath>
<rect x="178.40" y="224.30" width="10.20" height="9.80" fill="#111"/>
<g clip-path="url(#cl7)">
<line x1="163.52" y1="234.10" x2="173.32" y2="224.30" stroke="#bdbdbd" stroke-width="1.15" />
<line x1="167.44" y1="234.10" x2="177.24" y2="224.30" stroke="#bdbdbd" stroke-width="1.15" />
<line x1="171.36" y1="234.10" x2="181.16" y2="224.30" stroke="#bdbdbd" stroke-width="1.15" />
<line x1="175.28" y1="234.10" x2="185.08" y2="224.30" stroke="#bdbdbd" stroke-width="1.15" />
<line x1="179.20" y1="234.10" x2="189.00" y2="224.30" stroke="#bdbdbd" stroke-width="1.15" />
<line x1="183.12" y1="234.10" x2="192.92" y2="224.30" stroke="#bdbdbd" stroke-width="1.15" />
<line x1="187.04" y1="234.10" x2="196.84" y2="224.30" stroke="#bdbdbd" stroke-width="1.15" />
<line x1="190.96" y1="234.10" x2="200.76" y2="224.30" stroke="#bdbdbd" stroke-width="1.15" />
<line x1="194.88" y1="234.10" x2="204.68" y2="224.30" stroke="#bdbdbd" stroke-width="1.15" />
</g>
<rect x="178.40" y="224.30" width="10.20" height="9.80" fill="none" stroke="#333" stroke-width="1"/>
<text x="194.80" y="232.70" font-size="10.6" text-anchor="start" font-weight="normal" fill="#111" >Low+Upp</text>
<text x="270.70" y="195.00" font-size="17" text-anchor="start" font-weight="bold" fill="#000" >D</text>
<line x1="314.10" y1="199.22" x2="314.10" y2="330.00" stroke="#6e6e6e" stroke-width="1.0" />
<line x1="310.60" y1="329.50" x2="314.10" y2="329.50" stroke="#6e6e6e" stroke-width="1.0" />
<text x="308.60" y="333.80" font-size="10.5" text-anchor="end" font-weight="normal" fill="#111" >0</text>
<line x1="310.60" y1="286.24" x2="314.10" y2="286.24" stroke="#6e6e6e" stroke-width="1.0" />
<text x="308.60" y="290.54" font-size="10.5" text-anchor="end" font-weight="normal" fill="#111" >2</text>
<line x1="310.60" y1="242.98" x2="314.10" y2="242.98" stroke="#6e6e6e" stroke-width="1.0" />
<text x="308.60" y="247.28" font-size="10.5" text-anchor="end" font-weight="normal" fill="#111" >4</text>
<line x1="310.60" y1="199.72" x2="314.10" y2="199.72" stroke="#6e6e6e" stroke-width="1.0" />
<text x="308.60" y="204.02" font-size="10.5" text-anchor="end" font-weight="normal" fill="#111" >6</text>
<line x1="314.10" y1="329.50" x2="510.00" y2="329.50" stroke="#6e6e6e" stroke-width="1.0" />
<line x1="348.10" y1="329.50" x2="348.10" y2="333.00" stroke="#6e6e6e" stroke-width="1.0" />
<text x="348.10" y="342.50" font-size="10.5" text-anchor="middle" font-weight="normal" fill="#111" >0</text>
<line x1="413.30" y1="329.50" x2="413.30" y2="333.00" stroke="#6e6e6e" stroke-width="1.0" />
<text x="413.30" y="342.50" font-size="10.5" text-anchor="middle" font-weight="normal" fill="#111" >1</text>
<line x1="478.60" y1="329.50" x2="478.60" y2="333.00" stroke="#6e6e6e" stroke-width="1.0" />
<text x="478.60" y="342.50" font-size="10.5" text-anchor="middle" font-weight="normal" fill="#111" >10</text>
<text x="419.70" y="354.20" font-size="12.6" text-anchor="middle" font-weight="normal" fill="#111" >PTox (µg/mL)</text>
<text transform="translate(281.60,264.20) rotate(-90)" x="0" y="0" font-size="12.3" text-anchor="middle" fill="#111">CHEMOTAXIS</text>
<text transform="translate(294.70,264.30) rotate(-90)" x="0" y="0" font-size="12.25" text-anchor="middle" fill="#111">% input cells</text>
<polyline points="348.00,279.70 413.50,299.20 478.30,305.40" fill="none" stroke="#2a2a2a" stroke-width="1.0"/>
<polyline points="348.00,214.10 413.50,282.50 478.90,294.80" fill="none" stroke="#2a2a2a" stroke-width="1.0"/>
<polyline points="348.00,207.60 413.50,281.80 478.90,288.60" fill="none" stroke="#2a2a2a" stroke-width="1.0"/>
<circle cx="348.00" cy="279.70" r="3.85" fill="#fff" stroke="#222" stroke-width="1.0"/>
<circle cx="413.50" cy="299.20" r="3.85" fill="#fff" stroke="#222" stroke-width="1.0"/>
<circle cx="478.30" cy="305.40" r="3.85" fill="#fff" stroke="#222" stroke-width="1.0"/>
<rect x="345.10" y="211.20" width="5.8" height="5.8" fill="#fff" stroke="#333" stroke-width="1"/>
<rect x="410.60" y="279.60" width="5.8" height="5.8" fill="#fff" stroke="#333" stroke-width="1"/>
<rect x="476.00" y="291.90" width="5.8" height="5.8" fill="#fff" stroke="#333" stroke-width="1"/>
<circle cx="348.00" cy="207.60" r="3.85" fill="#111" stroke="#222" stroke-width="1.0"/>
<circle cx="413.50" cy="281.80" r="3.85" fill="#111" stroke="#222" stroke-width="1.0"/>
<circle cx="478.90" cy="288.60" r="3.85" fill="#111" stroke="#222" stroke-width="1.0"/>
<line x1="414.40" y1="269.00" x2="414.40" y2="273.80" stroke="#555" stroke-width="1.0" />
<line x1="412.32" y1="270.20" x2="416.48" y2="272.60" stroke="#555" stroke-width="1.0" />
<line x1="412.32" y1="272.60" x2="416.48" y2="270.20" stroke="#555" stroke-width="1.0" />
<line x1="478.90" y1="274.90" x2="478.90" y2="279.70" stroke="#aaa" stroke-width="1.0" />
<line x1="476.82" y1="276.10" x2="480.98" y2="278.50" stroke="#aaa" stroke-width="1.0" />
<line x1="476.82" y1="278.50" x2="480.98" y2="276.10" stroke="#aaa" stroke-width="1.0" />
<line x1="443.20" y1="203.90" x2="461.20" y2="203.90" stroke="#666" stroke-width="1.0" />
<circle cx="452.20" cy="203.90" r="4.1" fill="#fff" stroke="#222" stroke-width="1.0"/>
<text x="464.60" y="207.30" font-size="10.4" text-anchor="start" font-weight="normal" fill="#111" >Control</text>
<line x1="443.20" y1="218.85" x2="461.20" y2="218.85" stroke="#666" stroke-width="1.0" />
<rect x="449.30" y="215.95" width="5.8" height="5.8" fill="#fff" stroke="#333" stroke-width="1"/>
<text x="464.60" y="222.25" font-size="10.4" text-anchor="start" font-weight="normal" fill="#111" >CXCL8</text>
<line x1="443.20" y1="233.80" x2="461.20" y2="233.80" stroke="#666" stroke-width="1.0" />
<circle cx="452.20" cy="233.80" r="4.1" fill="#111" stroke="#222" stroke-width="1.0"/>
<text x="464.60" y="237.20" font-size="10.4" text-anchor="start" font-weight="normal" fill="#111" >Chemerin</text>
</svg>
</body></html>
